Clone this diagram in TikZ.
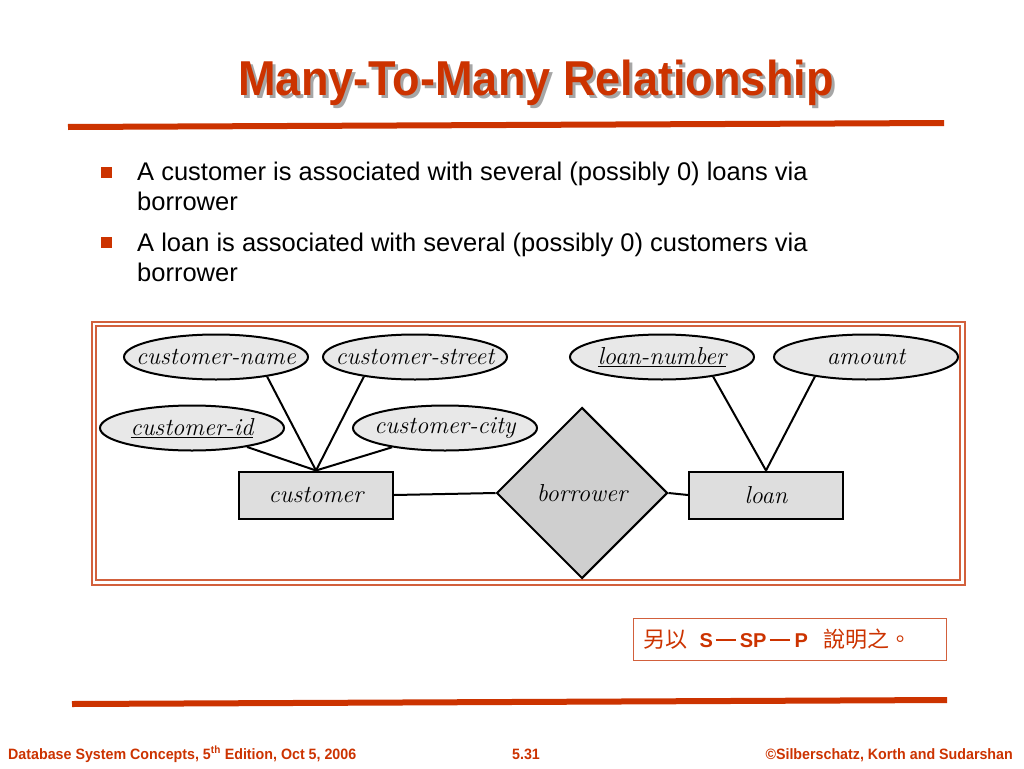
\documentclass[tikz,border=0pt]{standalone}
\usepackage{fontspec}
\usetikzlibrary{shapes.geometric}
\usepackage{xcolor}
\newfontfamily\arial{Liberation Sans}
\newfontfamily\cjk{Noto Sans CJK TC}
\definecolor{slidered}{HTML}{CC3300}
\definecolor{framered}{HTML}{D2603C}
\definecolor{attrgray}{HTML}{E8E8E8}
\definecolor{entgray}{HTML}{DEDEDE}
\definecolor{relgray}{HTML}{CFCFCF}
\newcommand{\attrtext}[1]{\makebox[0pt]{#1}}
\newcommand{\dashbar}{\rule[6pt]{20pt}{2.8pt}}

\begin{document}
\begin{tikzpicture}[x=1pt, y=-1pt,
  attr/.style={draw, line width=2pt, ellipse, fill=attrgray, minimum width=184pt, minimum height=45pt, inner sep=0pt, font=\fontsize{24.5}{28}\selectfont\itshape},
  entity/.style={draw, line width=2pt, fill=entgray, minimum width=154pt, minimum height=47pt, inner sep=0pt, font=\fontsize{24.5}{28}\selectfont\itshape},
  rel/.style={draw, line width=2pt, diamond, fill=relgray, minimum width=171pt, minimum height=171pt, inner sep=0pt, font=\fontsize{24.5}{28}\selectfont\itshape},
  link/.style={line width=2pt},
  bullet/.style={fill=slidered, minimum size=11pt, inner sep=0pt},
  line/.style={anchor=base west, inner sep=0pt, font=\arial\fontsize{25.5}{28}\selectfont},
  foot/.style={inner sep=0pt, text=slidered, font=\arial\bfseries\fontsize{15}{17}\selectfont},
]
\useasboundingbox[fill=white] (0,0) rectangle (1024,768);

% title and rules
\node[anchor=base, text=black!35, font=\arial\bfseries\fontsize{49}{56}\selectfont] at (539,98) {\scalebox{0.92}[1]{Many-To-Many Relationship}};
\node (title) [anchor=base, text=slidered, font=\arial\bfseries\fontsize{49}{56}\selectfont] at (536,95) {\scalebox{0.92}[1]{Many-To-Many Relationship}};
\draw[slidered, line width=6pt] (68,127) -- (944,123);
\draw[slidered, line width=6pt] (72,704) -- (947,700);

% bullets
\foreach \y in {172,242} {
 \node[bullet] at (106,\y) {};
}
\node[line] (l1) at (137,180) {A customer is associated with several (possibly 0) loans via};
\node[line] (l2) at (137,210) {borrower};
\node[line] (l3) at (137,251) {A loan is associated with several (possibly 0) customers via};
\node[line] (l4) at (137,281) {borrower};

% E-R diagram
\draw[framered, line width=2pt] (92,322) rectangle (965,585);
\draw[framered, line width=1.2pt] (96,326) rectangle (960,580);
\node[attr] (cname) at (216,357) {\attrtext{customer-name}};
\node[attr] (cstreet) at (415,357) {\attrtext{customer-street}};
\node[attr] (cid) at (192,428) {\attrtext{\underline{customer-id}}};
\node[attr] (ccity) at (445,428) {\attrtext{customer-city}};
\node[attr] (lnum) at (662,357) {\attrtext{\underline{loan-number}}};
\node[attr] (amount) at (866,357) {\attrtext{amount}};
\node[entity] (customer) at (316,495) {customer};
\node[rel] (borrower) at (582,493) {borrower};
\node[entity] (loan) at (766,495) {loan};
\foreach \a/\b in {cname/-21, cstreet/201, cid/-19, ccity/200} {
 \draw[link] (customer.north) -- (\a.\b);
}
\foreach \a/\b in {lnum/-21, amount/201} {
 \draw[link] (loan.north) -- (\a.\b);
}
\draw[link] (customer.east) -- (borrower.west);
\draw[link] (borrower.east) -- (loan.west);

% note
\node (note) [draw=framered, line width=1pt, anchor=west, inner xsep=10pt, minimum height=42pt, text width=293pt, align=left, text=slidered, font=\fontsize{20}{24}\selectfont] at (633,639)
 {{\cjk\fontsize{22}{24}\selectfont 另以}\hspace{12pt}{\arial\bfseries S}\hspace{3pt}\dashbar\hspace{4pt}{\arial\bfseries SP}\hspace{3pt}\dashbar\hspace{5pt}{\arial\bfseries P}\hspace{16pt}{\cjk\fontsize{22}{24}\selectfont 說明之。}};

% footer
\node[foot, anchor=base west] (f1) at (8,759) {\scalebox{0.95}[1]{Database System Concepts, 5\textsuperscript{th} Edition, Oct 5,\ 2006}};
\node[foot, anchor=base] (f2) at (526,759) {\scalebox{0.95}[1]{5.31}};
\node[foot, anchor=base east] (f3) at (1013,759) {\scalebox{0.95}[1]{©Silberschatz, Korth and Sudarshan}};
\end{tikzpicture}
\end{document}
